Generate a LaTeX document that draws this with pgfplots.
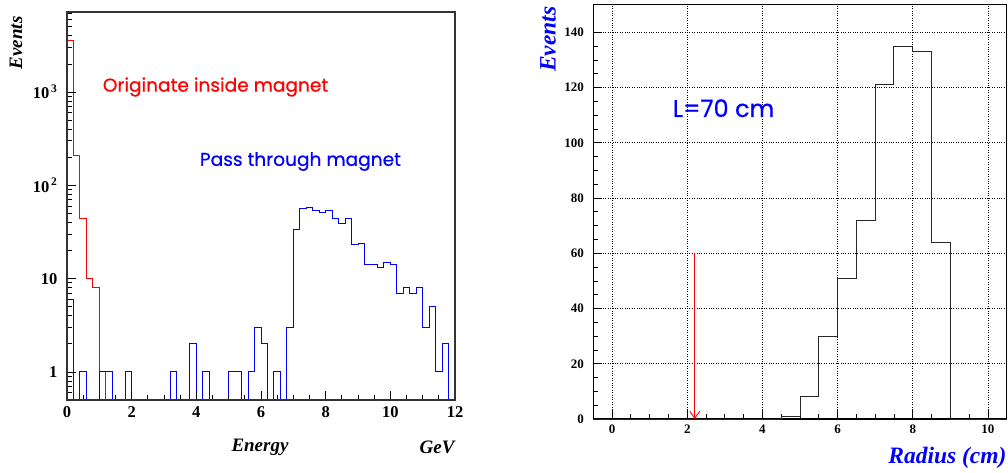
\documentclass[border=0pt]{standalone}
\usepackage{fontspec}
\setmainfont{Liberation Serif}
\newfontfamily\gfont[FakeBold=0.6]{Poppins}
\usepackage{pgfplots}
\pgfplotsset{compat=1.18}
\usetikzlibrary{arrows.meta}

\definecolor{rootblue}{rgb}{0,0,1}
\definecolor{rootred}{rgb}{1,0,0}

\begin{document}
\begin{tikzpicture}[x=1pt,y=1pt]
\useasboundingbox (0,0) rectangle (1008,472);

% left: energy spectrum, log scale
\begin{axis}[
  at={(67pt,72pt)}, anchor=south west,
  scale only axis, width=388pt, height=388pt,
  xmin=0, xmax=12, ymode=log, ymin=0.5, ymax=7200,
  xtick={0,2,...,12}, minor x tick num=3,
  ytick={1,10,100,1000},
  yticklabels={1,10,10\textsuperscript{\,2},10\textsuperscript{\,3}},
  minor ytick={0.6,0.7,0.8,0.9,2,3,4,5,6,7,8,9,20,30,40,50,60,70,80,90,200,300,400,500,600,700,800,900,2000,3000,4000,5000,6000,7000},
  tick align=inside, tick pos=left,
  major tick length=9pt, minor tick length=5pt,
  every tick/.style={black, line width=0.8pt},
  ticklabel style={font=\bfseries\fontsize{16.5}{16.5}\selectfont},
  xticklabel style={yshift=-3pt},
  yticklabel style={xshift=-6pt},
  /pgf/number format/assume math mode=true,
  axis line style={line width=1.4pt, black!80},
  axis on top,
  no markers,
]
\addplot[const plot, rootred, line width=1pt] coordinates {
  (0,3600) (0.2,210) (0.4,44) (0.6,10) (0.8,8) (1.0,1) (1.2,0.5)};
\addplot[const plot, rootblue, line width=1pt] coordinates {
  (0.0,6) (0.2,0.5) (0.4,1) (0.6,0.5) (0.8,0.5) (1.0,1) (1.2,1) (1.4,0.5)
  (1.6,0.5) (1.8,1) (2.0,0.5) (2.2,0.5) (2.4,0.5) (2.6,0.5) (2.8,0.5) (3.0,0.5)
  (3.2,1) (3.4,0.5) (3.6,0.5) (3.8,2) (4.0,0.5) (4.2,1) (4.4,0.5) (4.6,0.5)
  (4.8,0.5) (5.0,1) (5.2,1) (5.4,0.5) (5.6,1) (5.8,3) (6.0,2) (6.2,0.5)
  (6.4,1) (6.6,0.5) (6.8,3) (7.0,34) (7.2,56) (7.4,58) (7.6,54) (7.8,51)
  (8.0,54) (8.2,44) (8.4,39) (8.6,44) (8.8,23) (9.0,24) (9.2,14) (9.4,14)
  (9.6,13) (9.8,15) (10.0,14) (10.2,7) (10.4,8) (10.6,7) (10.8,8) (11.0,3)
  (11.2,5) (11.4,1) (11.6,2) (11.8,0.5) (12.0,0.5)};
\addplot[violet, line width=1.5pt] coordinates {(12,0.5) (12,1)};
\node[anchor=west, text=rootred, font=\gfont\fontsize{18.6}{18.6}\selectfont] at (axis cs:1.0,1130) {Originate inside magnet};
\node[anchor=west, text=rootblue, font=\gfont\fontsize{18.6}{18.6}\selectfont] at (axis cs:4.0,180) {Pass through magnet};
\end{axis}

% right: radius distribution
\begin{axis}[
  at={(593.3pt,53pt)}, anchor=south west,
  scale only axis, width=413.4pt, height=414.3pt,
  xmin=-0.5, xmax=10.5, ymin=0, ymax=150,
  xtick={0,2,...,10}, ytick={0,20,...,140},
  minor x tick num=3, minor y tick num=3,
  grid=major, major grid style={dotted, black, line width=0.8pt},
  tick align=inside, tick pos=left,
  major tick length=9pt, minor tick length=5pt,
  every tick/.style={black, line width=0.8pt},
  ticklabel style={font=\bfseries\fontsize{13}{13}\selectfont},
  xticklabel style={yshift=-2pt},
  yticklabel style={xshift=-6pt},
  /pgf/number format/assume math mode=true,
  axis line style={line width=1.2pt, black},
  no markers,
]
\addplot[const plot, black!85, line width=1pt] coordinates {
  (-0.5,0) (4.5,1) (5.0,8) (5.5,30) (6.0,51) (6.5,72) (7.0,121) (7.5,135)
  (8.0,133) (8.5,64) (9.0,0) (10.5,0)};
\addplot[sharp plot, rootred, line width=0.9pt, -{Straight Barb[length=7pt,width=10pt]}] coordinates {(2.2,60) (2.2,0)};
\node[anchor=west, text=rootblue, font=\gfont\fontsize{24}{24}\selectfont] at (axis cs:1.52,112.5) {L=70 cm};
\end{axis}

% axis titles
\node[rotate=90, anchor=east, font=\bfseries\itshape\fontsize{19}{19}\selectfont] at (16,459) {Events};
\node[font=\bfseries\itshape\fontsize{19}{19}\selectfont] at (260,25) {Energy};
\node[anchor=east, font=\bfseries\itshape\fontsize{19}{19}\selectfont] at (458,25) {GeV};
\node[rotate=90, anchor=east, text=rootblue, font=\bfseries\itshape\fontsize{23.5}{23.5}\selectfont] at (548,469) {Events};
\node[anchor=east, text=rootblue, font=\bfseries\itshape\fontsize{23.5}{23.5}\selectfont] at (1010,14) {Radius (cm)};
\end{tikzpicture}
\end{document}
